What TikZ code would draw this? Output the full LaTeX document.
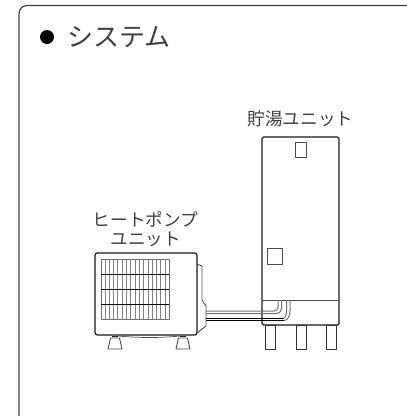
\documentclass[tikz,border=0pt]{standalone}
\usepackage{fontspec}
\newfontfamily\jp{Noto Sans CJK JP}[Script=CJK]
\tikzset{
  frameline/.style={line width=1.2pt,draw=black!75},
  part/.style={line width=1.2pt,draw=black!90,line join=round},
  leg/.style={line width=1.0pt,draw=black!80,line join=round},
  thin part/.style={line width=0.9pt,draw=black!70,line join=round},
  grill/.style={line width=0.9pt,draw=black!50},
  grayline/.style={line width=1.0pt,draw=black!55},
  lbl/.style={inner sep=0pt,font=\jp\fontsize{17.6pt}{20pt}\selectfont,text=black!75},
}
\begin{document}
\begin{tikzpicture}[x=1pt,y=-1pt]
\useasboundingbox (0,0) rectangle (407,416);
\draw[frameline,rounded corners=8pt] (19,416) -- (19,5.5) -- (407,5.5);
\node[inner sep=0pt,anchor=west,font=\jp\fontsize{26pt}{28pt}\selectfont,text=black!75] (title) at (67.5,37) {システム};
\node[inner sep=0pt,circle,fill=black,minimum size=14pt] (bullet) at (47,37) {};
\node[lbl] (tanklabel) at (300.5,119) {貯湯ユニット};
\node[lbl] (hplabel1) at (145.5,219) {ヒートポンプ};
\node[lbl] (hplabel2) at (146,239) {ユニット};
% heat pump
\draw[part,rounded corners=2.5pt] (95,335) -- (95,253) -- (197,253) -- (197,335) -- cycle;
\draw[thin part] (197,264) -- (202,266) -- (202,300) -- (206,306) -- (206,326) -- (197,333);
\draw[grayline] (101,259) rectangle (169,319);
\foreach \x in {105,109.3,...,166} \draw[grill] (\x,259) -- (\x,319);
\foreach \y in {274,289.5,304.5} \draw[line width=0.9pt,draw=black] (101,\y) -- (169,\y);
\draw[thin part] (108,349) -- (110.5,338) -- (119.5,338) -- (122,349) -- cycle;
\draw[thin part] (176,349) -- (178.5,338) -- (187.5,338) -- (190,349) -- cycle;
\draw[line width=1.2pt,draw=black!85] (112,336.5) -- (118,336.5) (180,336.5) -- (186,336.5);
\draw[line width=0.7pt,draw=black!70] (118,336) .. controls (140,338) and (160,338) .. (180,336);
% tank
\draw[part,rounded corners=1.5pt] (262,325) -- (262,137) -- (339,137) -- (339,325) -- cycle;
\draw[thin part] (262,300) -- (339,300);
\draw[thin part] (295,142) rectangle (306,157);
\draw[thin part] (267,248) rectangle (282,264);
\foreach \x in {265,296,326.5} \draw[leg] (\x,325) rectangle (\x+10,349);
% pipes
\draw[grayline,rounded corners=4pt] (206,311) -- (278,311) -- (278,300);
\draw[grayline,rounded corners=5pt] (206,313.5) -- (281.5,313.5) -- (281.5,300);
\draw[line width=0.9pt,draw=black] (206,318) -- (284,318);
\draw[line width=0.9pt,draw=black] (206,320.5) -- (284,320.5);
\draw[grayline] (284,318) .. controls (285.5,318) and (286.5,315) .. (286.5,312) -- (286.5,300);
\draw[grayline] (284,320.5) .. controls (287.5,320.5) and (290,316) .. (290,311) -- (290,300);
\end{tikzpicture}
\end{document}
